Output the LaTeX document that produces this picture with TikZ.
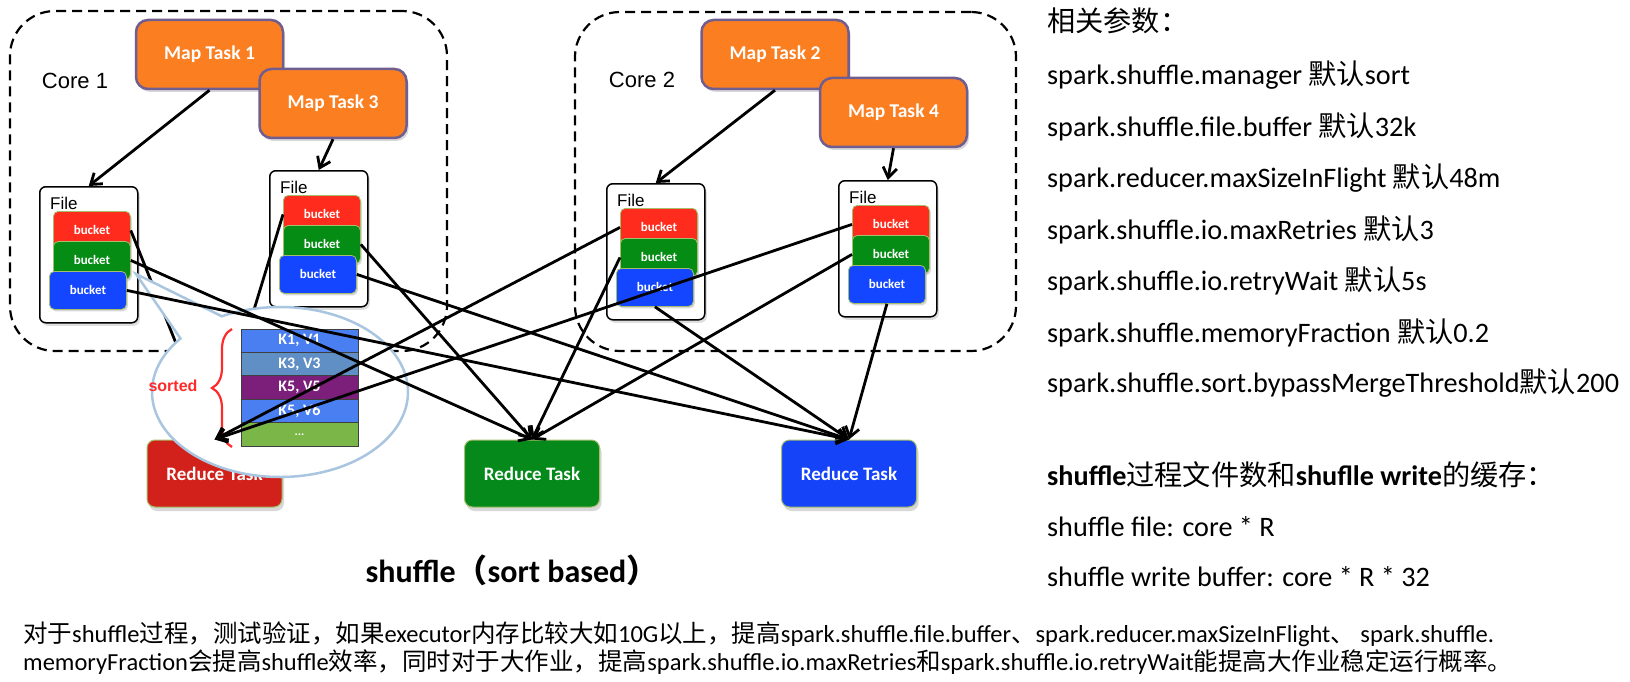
\documentclass[tikz,border=0pt]{standalone}
\usepackage{fontspec}
\setmainfont{Carlito}
\newfontfamily\carl{Carlito}
\newfontfamily\arialf{Liberation Sans}
\newfontfamily\cjk{Noto Sans CJK SC}
\usetikzlibrary{arrows.meta,shadows,shapes.callouts,decorations.pathreplacing}

\definecolor{maporange}{HTML}{FB7F21}
\definecolor{mapborder}{HTML}{6F5E8F}
\definecolor{bred}{HTML}{FF2B1C}
\definecolor{bgreen}{HTML}{058C14}
\definecolor{bblue}{HTML}{1446FF}
\definecolor{rred}{HTML}{D2211A}
\definecolor{rgreen}{HTML}{04891A}
\definecolor{rblue}{HTML}{1543F7}
\definecolor{olivebd}{HTML}{A4BE6C}
\definecolor{kvblue}{HTML}{4A7FF2}
\definecolor{kvsteel}{HTML}{5F8FC4}
\definecolor{kvpurple}{HTML}{7B1F7A}
\definecolor{kvgreen}{HTML}{7AB648}
\definecolor{kvborder}{HTML}{404040}
\definecolor{bubblebd}{HTML}{A9C5DF}
\definecolor{sortred}{HTML}{FF2A2A}

\tikzset{
  corebox/.style={rectangle, draw=black, line width=2.2pt, dash pattern=on 10pt off 6pt,
    rounded corners=45pt, inner sep=0pt},
  corelabel/.style={font=\arialf\fontsize{22}{24}\selectfont, inner sep=0pt},
  mapbox/.style={rectangle, rounded corners=12pt, draw=mapborder, line width=2.5pt,
    fill=maporange, text=white, font=\carl\bfseries\fontsize{19.5}{22}\selectfont,
    minimum width=147pt, minimum height=69pt, inner sep=0pt,
    drop shadow={shadow xshift=2pt, shadow yshift=-3pt, opacity=0.3}},
  filebox/.style={rectangle, rounded corners=6pt, draw=black, line width=1.5pt, fill=white,
    minimum width=98pt, minimum height=136pt, inner sep=0pt,
    drop shadow={shadow xshift=2pt, shadow yshift=-3pt, opacity=0.25}},
  filelabel/.style={font=\arialf\fontsize{17}{19}\selectfont, inner sep=0pt},
  bkt/.style={rectangle, rounded corners=5pt, draw=olivebd, line width=0.8pt,
    text=white, font=\carl\bfseries\fontsize{13}{15}\selectfont,
    minimum width=77pt, minimum height=38pt, inner sep=0pt,
    drop shadow={shadow xshift=1.5pt, shadow yshift=-2pt, opacity=0.3}},
  redbox/.style={rectangle, rounded corners=8pt, draw=olivebd, line width=1pt,
    text=white, font=\carl\bfseries\fontsize{19}{21}\selectfont,
    minimum width=135pt, minimum height=67pt, inner sep=0pt,
    drop shadow={shadow xshift=2pt, shadow yshift=-4pt, opacity=0.3}},
  kvrow/.style={rectangle, draw=kvborder, line width=1pt, text=white,
    font=\carl\bfseries\fontsize{16}{18}\selectfont, minimum width=117pt, minimum height=23.4pt,
    inner sep=0pt},
  conn/.style={line width=2.8pt, -{Straight Barb[length=10pt,width=14pt]}},
  bubble/.style={ellipse callout, draw=bubblebd, line width=2.5pt, fill=white,
    minimum width=256pt, minimum height=170pt, inner sep=0pt, callout pointer arc=24},
  bracestyle/.style={draw=sortred, line width=2.2pt, decorate,
    decoration={brace, amplitude=20pt}},
  rtext/.style={anchor=base west, inner sep=0pt, font=\carl\fontsize{28.2}{32}\selectfont},
  ntext/.style={anchor=base west, inner sep=0pt, font=\carl\fontsize{24.5}{28}\selectfont}
}

\newcommand{\fgroup}[3]{%
  \node[filebox, anchor=north west] (#1) at (#2,#3) {};
  \node[filelabel, anchor=west] (#1lab) at (#2+11,#3+17) {File};
  \node[bkt, fill=bred, anchor=north west] (#1r) at (#2+14,#3+25) {bucket};
  \node[bkt, fill=bgreen, anchor=north west] (#1g) at (#2+14,#3+55) {bucket};
  \node[bkt, fill=bblue, anchor=north west] (#1b) at (#2+10,#3+85) {bucket};
}

\begin{document}
\begin{tikzpicture}[x=1pt,y=-1pt]
\fill[white] (0,0) rectangle (1630,682);
\useasboundingbox (0,0) rectangle (1630,682);

% cores
\node[corebox, minimum width=437pt, minimum height=340pt] (core1) at (228.5,181) {};
\node[corebox, minimum width=441pt, minimum height=339pt] (core2) at (795.5,181.5) {};
\node[corelabel] (core1lab) at (75,81) {Core 1};
\node[corelabel] (core2lab) at (642,80) {Core 2};

% map tasks
\node[mapbox] (mt1) at (209.5,54.5) {Map Task 1};
\node[mapbox] (mt3) at (333,103.5) {Map Task 3};
\node[mapbox] (mt2) at (775,54.5) {Map Task 2};
\node[mapbox] (mt4) at (893.5,112.5) {Map Task 4};

% files
\fgroup{fone}{39}{186}
\fgroup{fthree}{269}{170}
\fgroup{ftwo}{606}{183}
\fgroup{ffour}{838}{180}

\draw[conn] (mt1.south) -- (fone.north);
\draw[conn] (mt3.south) -- (fthree.north);
\draw[conn] (mt2.south) -- (ftwo.north);
\draw[conn] (mt4.south) -- (ffour.north);

% reduce tasks
\node[redbox, fill=rred] (rr) at (214.5,473.5) {Reduce Task};
\node[redbox, fill=rgreen] (rg) at (532,473.5) {Reduce Task};
\node[redbox, fill=rblue] (rb) at (849,473.5) {Reduce Task};

% arrows hidden under the bubble
\draw[conn] (foner.east) -- (rr.north);
\draw[conn] (fthreer.west) -- (rr.north);

% sort bubble
\coordinate (bubtip) at (136,274);
\node[bubble, callout absolute pointer={(bubtip)}] (bub) at (280,392) {};

\node[kvrow, fill=kvblue] (kv1) at (299.5,340.7) {K1, V1};
\node[kvrow, fill=kvsteel] (kv2) at (299.5,364.1) {K3, V3};
\node[kvrow, fill=kvpurple] (kv3) at (299.5,387.5) {K5, V5};
\node[kvrow, fill=kvblue] (kv4) at (299.5,410.9) {K5, V6};
\node[kvrow, fill=kvgreen, font=\carl\bfseries\fontsize{12}{14}\selectfont] (kv5) at (299.5,434.3) {...};

\coordinate (brb) at (232,447);
\coordinate (brt) at (232,329);
\draw[bracestyle] (brb) -- (brt);
\node[font=\arialf\bfseries\fontsize{16}{18}\selectfont, text=sortred, inner sep=0pt] (sortedlab) at (173,386) {sorted};

% remaining arrows
\draw[conn] (ftwor.west) -- (rr.north);
\draw[conn] (ffourr.west) -- (rr.north);
\draw[conn] (foneg.east) -- (rg.north);
\draw[conn] (fthreeg.east) -- (rg.north);
\draw[conn] (ftwog.west) -- (rg.north);
\draw[conn] (ffourg.west) -- (rg.north);
\draw[conn] (foneb.east) -- (rb.north);
\draw[conn] (fthreeb.east) -- (rb.north);
\draw[conn] (ftwob.south) -- (rb.north);
\draw[conn] (ffourb.south) -- (rb.north);

% title
\node[anchor=base, inner sep=0pt, font=\carl\bfseries\fontsize{32}{36}\selectfont] (title) at (512,582) {shuffle{\cjk （}sort based{\cjk ）}};

% right column
\node[rtext] (p0) at (1047,32) {{\cjk 相关参数：}};
\node[rtext] (p1) at (1047,85) {spark.shuffle.manager {\cjk 默认}sort};
\node[rtext] (p2) at (1047,136) {spark.shuffle.file.buffer {\cjk 默认}32k};
\node[rtext] (p3) at (1047,187) {spark.reducer.maxSizeInFlight {\cjk 默认}48m};
\node[rtext] (p4) at (1047,239) {spark.shuffle.io.maxRetries {\cjk 默认}3};
\node[rtext] (p5) at (1047,290) {spark.shuffle.io.retryWait {\cjk 默认}5s};
\node[rtext] (p6) at (1047,342) {spark.shuffle.memoryFraction {\cjk 默认}0.2};
\node[rtext] (p7) at (1047,392) {spark.shuffle.sort.bypassMergeThreshold{\cjk 默认}200};
\node[rtext] (h1) at (1047,485) {\textbf{shuffle}{\cjk 过程文件数和}\textbf{shuflle write}{\cjk 的缓存：}};
\node[rtext] (h2) at (1047,536) {shuffle file: core * R};
\node[rtext] (h3) at (1047,586) {shuffle write buffer: core * R * 32};

% notes
\node[ntext] (n1) at (23,642) {{\cjk 对于}shuffle{\cjk 过程，测试验证，如果}executor{\cjk 内存比较大如}10G{\cjk 以上，提高}spark.shuffle.file.buffer{\cjk 、}spark.reducer.maxSizeInFlight{\cjk 、} spark.shuffle.};
\node[ntext] (n2) at (23,670) {memoryFraction{\cjk 会提高}shuffle{\cjk 效率，同时对于大作业，提高}spark.shuffle.io.maxRetries{\cjk 和}spark.shuffle.io.retryWait{\cjk 能提高大作业稳定运行概率。}};
\end{tikzpicture}
\end{document}
